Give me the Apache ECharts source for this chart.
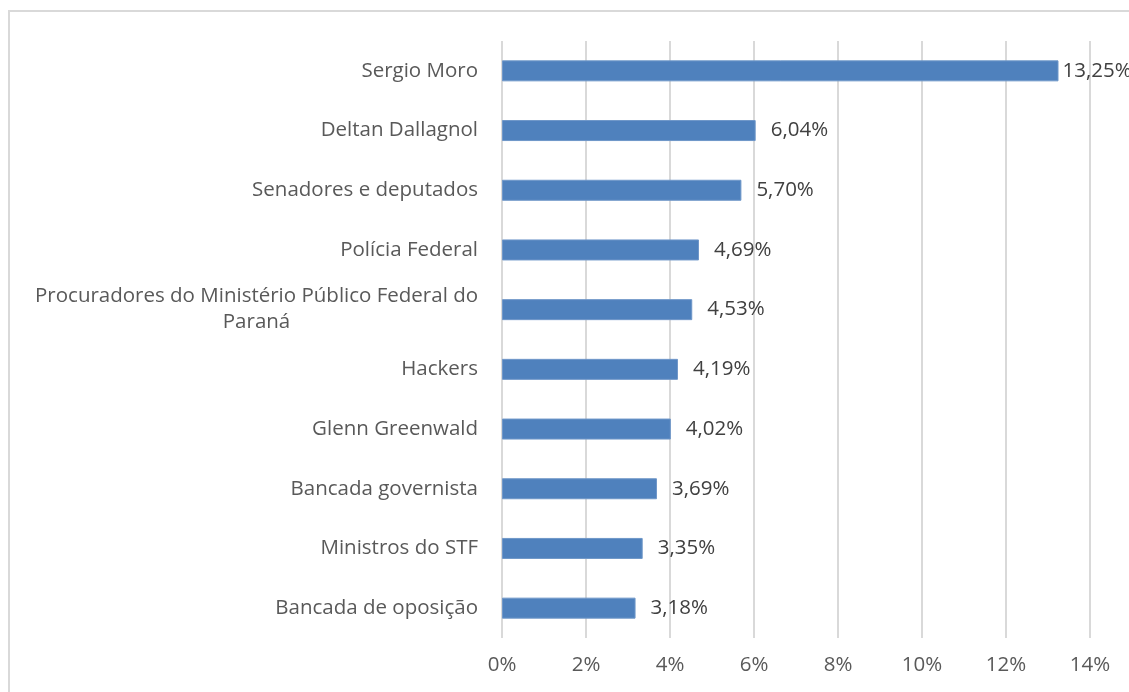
<!DOCTYPE html>
<html><head><meta charset="utf-8">
<script src="https://cdn.jsdelivr.net/npm/echarts@6/dist/echarts.min.js"></script>
<style>html,body{margin:0;padding:0;background:#fff}#c{width:1129px;height:692px}</style>
</head><body><div id="c"></div>
<script>
const categories = ["Sergio Moro","Deltan Dallagnol","Senadores e deputados","Polícia Federal","Procuradores do Ministério Público Federal do Paraná","Hackers","Glenn Greenwald","Bancada governista","Ministros do STF","Bancada de oposição"];
const values = [13.25,6.04,5.70,4.69,4.53,4.19,4.02,3.69,3.35,3.18];
const xTicks = [0,2,4,6,8,10,12,14];

const chart = echarts.init(document.getElementById('c'), null, {renderer:'canvas'});
const FONT = 'Open Sans';
const FS = 20.5;
function wrap(s){
  const max = 46;
  if (s.length <= max) return s;
  const words = s.split(' ');
  const lines = []; let cur = '';
  words.forEach(w=>{
    if ((cur + ' ' + w).trim().length > max) { lines.push(cur); cur = w; }
    else cur = (cur ? cur + ' ' : '') + w;
  });
  lines.push(cur);
  return lines.map(l=>'{c|'+l+'}').join('\n');
}
chart.setOption({
  animation:false,
  graphic:[{type:'rect',shape:{x:9,y:11,width:1300,height:900},style:{fill:'none',stroke:'#d9d9d9',lineWidth:2},silent:true}],
  grid:{left:502,right:39,top:41,bottom:54,containLabel:false},
  xAxis:{type:'value',min:xTicks[0],max:xTicks[xTicks.length-1],interval:2,
    axisLine:{show:false},axisTick:{show:false},
    splitLine:{lineStyle:{color:'#d9d9d9',width:2}},
    axisLabel:{formatter:v=>v+'%',color:'#595959',fontSize:FS,fontFamily:FONT,margin:17}},
  yAxis:{type:'category',inverse:true,data:categories,
    axisLine:{show:false},axisTick:{show:false},
    axisLabel:{color:'#595959',fontSize:FS,fontFamily:FONT,margin:24,align:'right',lineHeight:26,
      formatter:wrap,
      rich:{c:{align:'center',color:'#595959',fontSize:FS,fontFamily:FONT,lineHeight:26}}}},
  series:[{type:'bar',barWidth:21,
    data:values.map((v,i)=>i===0?{value:v,label:{distance:4}}:v),
    itemStyle:{color:'#4f81bd',borderColor:'#6f97c9',borderWidth:1},
    label:{show:true,position:'right',distance:15,color:'#404040',fontSize:FS,fontFamily:FONT,
      formatter:p=>p.value.toFixed(2).replace('.',',')+'%'}}]
});
</script></body></html>
